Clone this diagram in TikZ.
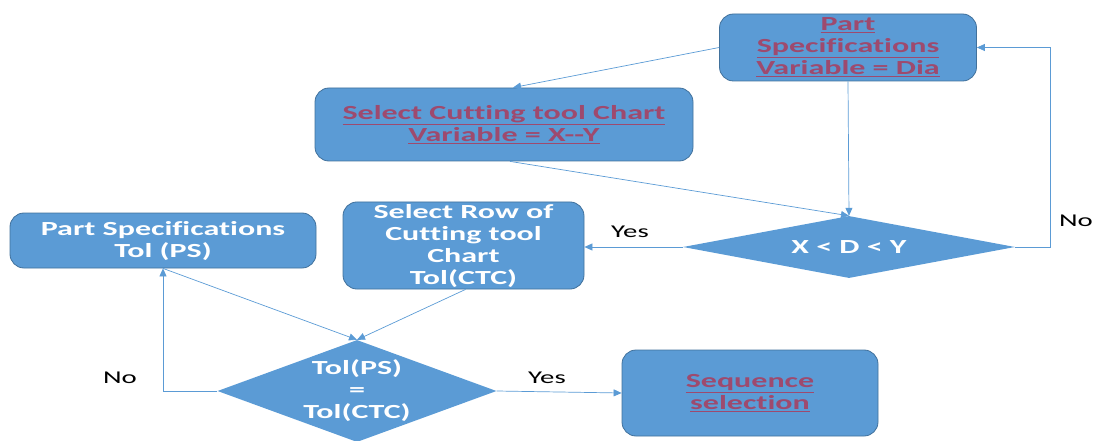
\documentclass[tikz,border=0pt]{standalone}
\usepackage{fontspec}
\setmainfont[FakeStretch=1.6, Ligatures=NoCommon]{Carlito}
\usetikzlibrary{shapes.geometric,arrows.meta}
\definecolor{boxfill}{RGB}{91,155,213}
\definecolor{boxline}{RGB}{65,113,156}
\definecolor{linktext}{RGB}{158,74,110}
\newcommand{\lnk}[1]{\underline{#1}}
\begin{document}
\begin{tikzpicture}[x=1pt,y=-1pt,
  box/.style={draw=boxline, line width=0.8pt, fill=boxfill, rounded corners=14pt,
    align=center, inner sep=2pt, font=\fontsize{20}{22}\selectfont\bfseries},
  linkbox/.style={box, text=linktext},
  plainbox/.style={box, text=white},
  decision/.style={diamond, fill=boxfill, draw=none, inner sep=0pt},
  decisiontext/.style={align=center, text=white, inner sep=0pt,
    font=\fontsize{20}{22}\selectfont\bfseries},
  conn/.style={draw=boxfill, line width=0.7pt, -{Triangle[length=8pt,width=7pt]}},
  lab/.style={font=\fontsize{18}{20}\selectfont, text=black}]
\useasboundingbox (0,0) rectangle (1093,441);

\node[linkbox, minimum width=257, minimum height=67] (ps) at (848,47.5)
  {\lnk{Part}\\ \lnk{Specifications}\\ \lnk{Variable = Dia}};
\node[linkbox, minimum width=378, minimum height=73] (ctc) at (504,124.5)
  {\lnk{Select Cutting tool Chart}\\ \lnk{Variable = X-{}-Y}};
\node[decision, minimum width=332, minimum height=62] (d1) at (849,247) {};
\node[decisiontext] (d1t) at (d1.center) {X < D < Y};
\node[plainbox, minimum width=241, minimum height=87] (row) at (463.5,245.5)
  {Select Row of\\ Cutting tool\\ Chart\\ Tol(CTC)};
\node[plainbox, minimum width=306, minimum height=55] (tol) at (163,240.5)
  {Part Specifications\\ Tol (PS)};
\node[decision, minimum width=279, minimum height=102] (d2) at (357,391) {};
\node[decisiontext] (d2t) at (d2.center) {Tol(PS)\\ =\\ Tol(CTC)};
\node[linkbox, minimum width=256, minimum height=86] (seq) at (750,393)
  {\lnk{Sequence}\\ \lnk{selection}};

\draw[conn] (ps.west) -- ([xshift=9pt]ctc.north);
\draw[conn] ([xshift=6pt]ctc.south) -- (d1.north);
\draw[conn] (ps.south) -- (d1.north);
\draw[conn] (d1.west) -- (row.east |- d1.west);
\coordinate (noback) at (1050,247);
\draw[conn] (d1.east) -- (noback) |- (ps.east);
\draw[conn] ([xshift=2pt]row.south) -- (d2.north);
\draw[conn] (tol.south) -- (d2.north);
\draw[conn] (d2.west) -| (tol.south);
\draw[conn] (d2.east) -- (seq.west);

\node[lab] (yes1) at (630,232) {Yes};
\node[lab] (no1) at (1076,221) {No};
\node[lab] (no2) at (120,378) {No};
\node[lab] (yes2) at (547,378) {Yes};
\end{tikzpicture}
\end{document}
